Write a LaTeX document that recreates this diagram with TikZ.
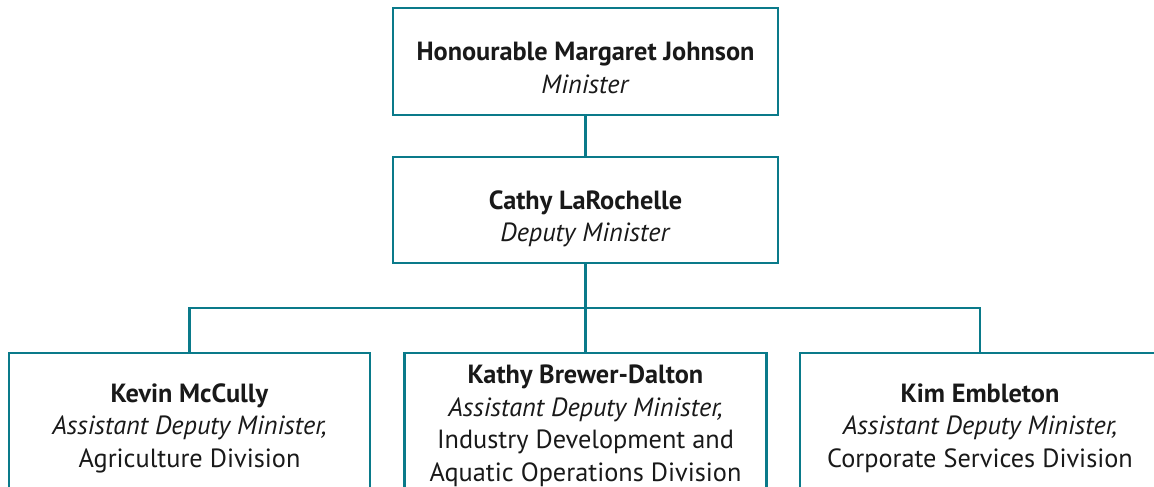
\documentclass[tikz,border=0pt]{standalone}
\usepackage{fontspec}
\setmainfont{PT Sans}
\definecolor{orgteal}{RGB}{10,122,138}
\definecolor{orgtext}{RGB}{25,25,25}
\newcommand{\lowered}[1]{\raisebox{-9pt}[\height][\depth]{\begin{tabular}{@{}c@{}}#1\end{tabular}}}
\tikzset{
  orgbox/.style={draw=orgteal, line width=2.6pt, fill=white, text=orgtext,
    minimum width=#1, align=center, font=\fontsize{26.3}{32.5}\selectfont},
  orgline/.style={draw=orgteal, line width=2.6pt}
}
\begin{document}
\begin{tikzpicture}[x=1pt, y=-1pt]
  \useasboundingbox (0,0) rectangle (1154,487);
  \clip (0,0) rectangle (1154,487);

  \node (minister) at (585.5, 61.5) [orgbox=385pt, minimum height=107pt]
    {\lowered{\textbf{Honourable Margaret Johnson}\\\textit{Minister}}};
  \node (deputy) at (585.5, 210) [orgbox=385pt, minimum height=106pt]
    {\lowered{\textbf{Cathy LaRochelle}\\\textit{Deputy Minister}}};

  \node (kevin) at (189.5, 428) [orgbox=361pt, minimum height=150pt]
    {\textbf{Kevin McCully}\\\textit{Assistant Deputy Minister,}\\Agriculture Division};
  \node (kathy) at (585.5, 428) [orgbox=362pt, minimum height=150pt]
    {\raisebox{2pt}[\height][\depth]{\begin{tabular}{@{}c@{}}\textbf{Kathy Brewer-Dalton}\\\textit{Assistant Deputy Minister,}\\Industry Development and\\Aquatic Operations Division\end{tabular}}};
  \node (kim) at (980, 428) [orgbox=360pt, minimum height=150pt]
    {\textbf{Kim Embleton}\\\textit{Assistant Deputy Minister,}\\Corporate Services Division};

  \coordinate (split) at (585.5, 308);

  \draw[orgline] (minister.south) -- (deputy.north);
  \draw[orgline] (deputy.south) -- (split);
  \draw[orgline] (kevin.north) |- (split) -| (kim.north);
  \draw[orgline] (split) -- (kathy.north);
\end{tikzpicture}
\end{document}
